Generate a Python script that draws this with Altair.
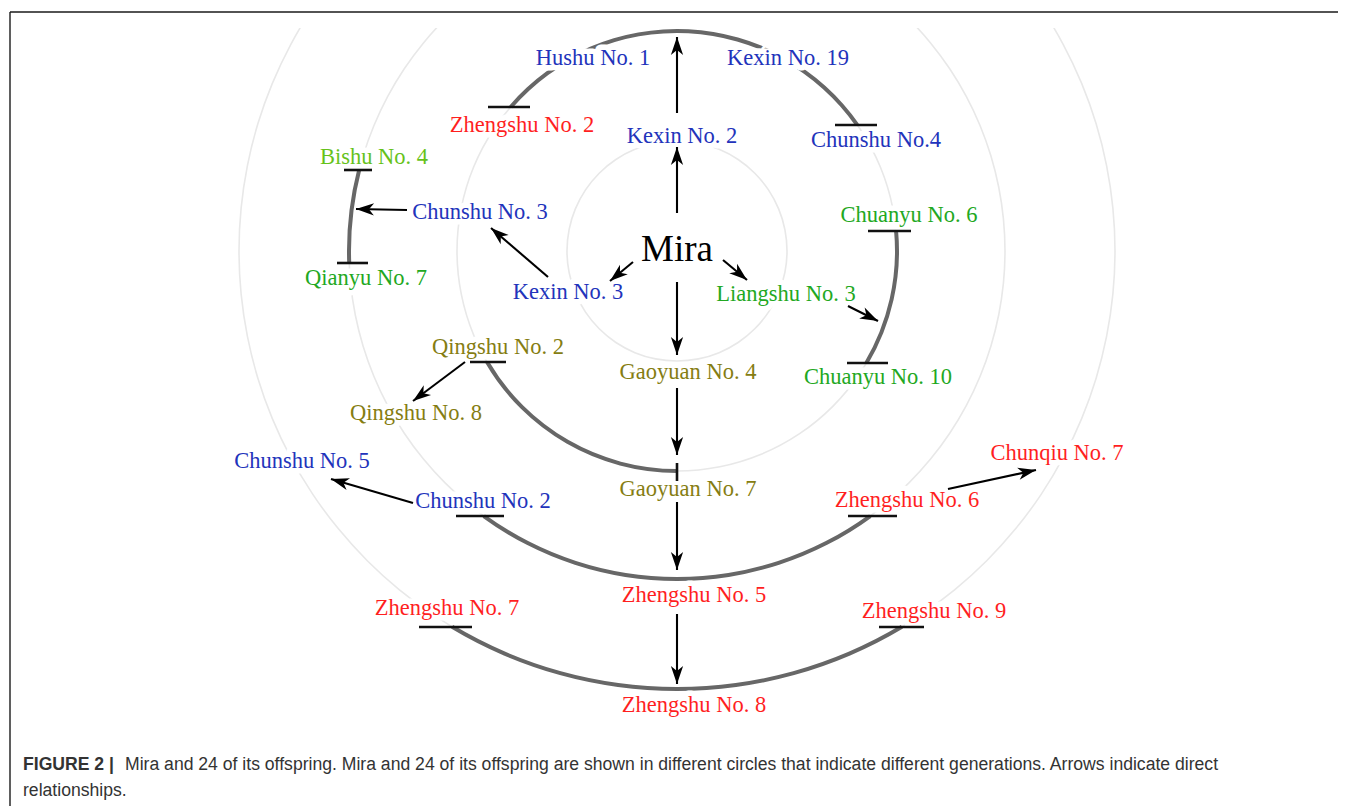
import math
import altair as alt
import pandas as pd

# ---------------- data ----------------
CENTER = (677, 251)

label_names = ["Hushu No. 1", "Kexin No. 19", "Zhengshu No. 2", "Kexin No. 2", "Chunshu No.4",
               "Bishu No. 4", "Chunshu No. 3", "Qianyu No. 7", "Kexin No. 3", "Liangshu No. 3",
               "Chuanyu No. 6", "Chuanyu No. 10", "Qingshu No. 2", "Gaoyuan No. 4", "Qingshu No. 8",
               "Chunshu No. 5", "Chunshu No. 2", "Gaoyuan No. 7", "Zhengshu No. 6", "Chunqiu No. 7",
               "Zhengshu No. 5", "Zhengshu No. 7", "Zhengshu No. 9", "Zhengshu No. 8"]
label_x = [593, 788, 522, 682, 876, 374, 480, 366, 568, 786, 909, 878, 498, 688, 416,
           302, 483, 688, 907, 1057, 694, 447, 934, 694]
label_y = [58, 58, 125, 136, 140, 157, 212, 278, 292, 294, 215, 377, 347, 372, 413,
           461, 501, 489, 500, 453, 595, 608, 611, 705]
label_group = ["blue", "blue", "red", "blue", "blue", "lime", "blue", "green", "blue", "green",
               "green", "green", "olive", "olive", "olive", "blue", "blue", "olive", "red", "red",
               "red", "red", "red", "red"]
group_names = ["blue", "red", "green", "lime", "olive"]
group_colors = ["#2233bb", "#ff1f1f", "#22a822", "#66c21a", "#857d12"]

root_name = "Mira"
root_pos = (677, 250)

# generation circles (radius, px)
ring_radius = [110, 220, 328, 438]

# grey connecting arcs: ring radius, start/end angle (deg, clockwise from top)
arc_radius = [220, 328, 220, 220, 328, 438]
arc_start = [-49.1, 267.9, 84.8, 180.0, 143.9, 149.1]
arc_end = [55.0, 284.3, 120.6, 239.7, 216.1, 210.9]

# end bars (x1, y1, x2, y2)
bar_x1 = [488, 835, 344, 337, 868, 847, 470, 677, 456, 848, 419, 879]
bar_y1 = [107, 125, 170, 263, 231, 363, 362, 463, 516, 516, 627, 627]
bar_x2 = [530, 877, 372, 368, 911, 888, 506, 677, 504, 897, 472, 924]
bar_y2 = [107, 125, 170, 263, 231, 363, 362, 481, 516, 516, 627, 627]

# arrows (start -> tip)
arr_x1 = [677, 677, 633, 723, 677, 548, 407, 848, 465, 677, 413, 677, 948, 677]
arr_y1 = [113, 213, 262, 260, 282, 277, 210, 306, 362, 388, 503, 502, 489, 614]
arr_x2 = [677, 677, 610, 747, 677, 491, 356, 878, 413, 677, 331, 677, 1036, 677]
arr_y2 = [37, 147, 281, 280, 355, 228, 209, 321, 401, 455, 479, 570, 470, 684]

caption_bold = "FIGURE 2 |"
caption_line1 = ("Mira and 24 of its offspring. Mira and 24 of its offspring are shown in different "
                 "circles that indicate different generations. Arrows indicate direct")
caption_line2 = "relationships."

# frame lines (x1, y1, x2, y2)
frame_x1 = [10, 10]
frame_y1 = [12, 12]
frame_x2 = [1346, 10]
frame_y2 = [12, 806]

# ---------------- tables ----------------
labels = pd.DataFrame({"name": label_names, "x": label_x, "y": label_y, "grp": label_group})

rings = pd.DataFrame({"cx": CENTER[0], "cy": CENTER[1],
                      "ro": [r + 0.8 for r in ring_radius], "ri": [r - 0.8 for r in ring_radius],
                      "t0": 0.0, "t1": 2 * math.pi})

def rad(a0, a1):
    if a0 < 0:
        a0, a1 = a0 + 360, a1 + 360
    return math.radians(a0), math.radians(a1)

arcs = pd.DataFrame({"cx": CENTER[0], "cy": CENTER[1],
                     "ro": [r + 2.0 for r in arc_radius], "ri": [r - 2.0 for r in arc_radius],
                     "t0": [rad(a, b)[0] for a, b in zip(arc_start, arc_end)],
                     "t1": [rad(a, b)[1] for a, b in zip(arc_start, arc_end)]})

bars = pd.DataFrame({"x": bar_x1, "y": bar_y1, "x2": bar_x2, "y2": bar_y2})
arrows = pd.DataFrame({"x": arr_x1, "y": arr_y1, "x2": arr_x2, "y2": arr_y2})
arrows["ang"] = [(math.degrees(math.atan2(bx - ax, -(by - ay))) + 360) % 360
                 for ax, ay, bx, by in zip(arr_x1, arr_y1, arr_x2, arr_y2)]
frame = pd.DataFrame({"x": frame_x1, "y": frame_y1, "x2": frame_x2, "y2": frame_y2})
root = pd.DataFrame({"name": [root_name], "x": [root_pos[0]], "y": [root_pos[1]]})
cap1 = pd.DataFrame({"t": [caption_bold], "x": [23], "y": [765]})
cap2 = pd.DataFrame({"t": [caption_line1, caption_line2], "x": [125, 23], "y": [765, 791]})

# ---------------- scales ----------------
W, H = 1330, 778
xs = alt.Scale(domain=[8, 8 + W], nice=False, zero=False)
ys = alt.Scale(domain=[28, 28 + H], reverse=True, nice=False, zero=False)

def X(f):
    return alt.X(f, type="quantitative", scale=xs, axis=None)

def Y(f):
    return alt.Y(f, type="quantitative", scale=ys, axis=None)

def seg_enc():
    return dict(x=X("x"), y=Y("y"), x2=alt.X2("x2"), y2=alt.Y2("y2"))

def arc_enc():
    return dict(x=X("cx"), y=Y("cy"),
                theta=alt.Theta("t0:Q", scale=None, stack=None), theta2=alt.Theta2("t1:Q"),
                radius=alt.Radius("ro:Q", scale=None, stack=None), radius2=alt.Radius2("ri:Q"))

frame_layer = alt.Chart(frame).mark_rule(color="#1a1a1a", strokeWidth=1.4).encode(**seg_enc())
ring_layer = alt.Chart(rings).mark_arc(fill="#e8e8e8", clip=True).encode(**arc_enc())
arc_layer = alt.Chart(arcs).mark_arc(fill="#676767").encode(**arc_enc())
bar_layer = alt.Chart(bars).mark_rule(color="#111111", strokeWidth=2.6).encode(**seg_enc())
shaft_layer = alt.Chart(arrows).mark_rule(color="#000000", strokeWidth=2.1).encode(**seg_enc())
head_layer = alt.Chart(arrows).mark_point(
    shape="M0,0 L0.34,1 L0,0.72 L-0.34,1 Z", filled=True, size=1296, color="#000000",
    opacity=1, strokeWidth=0
).encode(x=X("x2"), y=Y("y2"), angle=alt.Angle("ang:Q", scale=None))

halo_layer = alt.Chart(labels).mark_text(
    font="Liberation Serif", fontSize=22.5, color="white", stroke="white", strokeWidth=11,
    strokeJoin="round", baseline="middle", align="center"
).encode(x=X("x"), y=Y("y"), text="name:N")
text_layer = alt.Chart(labels).mark_text(
    font="Liberation Serif", fontSize=22.5, baseline="middle", align="center"
).encode(x=X("x"), y=Y("y"), text="name:N",
         color=alt.Color("grp:N", scale=alt.Scale(domain=group_names, range=group_colors), legend=None))
root_halo = alt.Chart(root).mark_text(
    font="Liberation Serif", fontSize=37, color="white", stroke="white", strokeWidth=8,
    baseline="middle", align="center"
).encode(x=X("x"), y=Y("y"), text="name:N")
root_layer = alt.Chart(root).mark_text(
    font="Liberation Serif", fontSize=37, color="#000000", baseline="middle", align="center"
).encode(x=X("x"), y=Y("y"), text="name:N")

cap_bold_layer = alt.Chart(cap1).mark_text(
    font="Liberation Sans", fontSize=17.6, fontWeight="bold", color="#333333",
    align="left", baseline="middle"
).encode(x=X("x"), y=Y("y"), text="t:N")
cap_layer = alt.Chart(cap2).mark_text(
    font="Liberation Sans", fontSize=17.6, color="#333333",
    align="left", baseline="middle"
).encode(x=X("x"), y=Y("y"), text="t:N")

chart = alt.layer(
    frame_layer, ring_layer, arc_layer, halo_layer, root_halo,
    bar_layer, shaft_layer, head_layer,
    text_layer, root_layer, cap_bold_layer, cap_layer
).properties(
    width=W, height=H,
    padding={"left": 0, "top": 20, "right": 0, "bottom": 0},
    autosize=alt.AutoSizeParams(type="none"),
    background="white",
).configure_view(stroke=None)

chart.save("out.html", embed_options={"renderer": "svg", "actions": False})
